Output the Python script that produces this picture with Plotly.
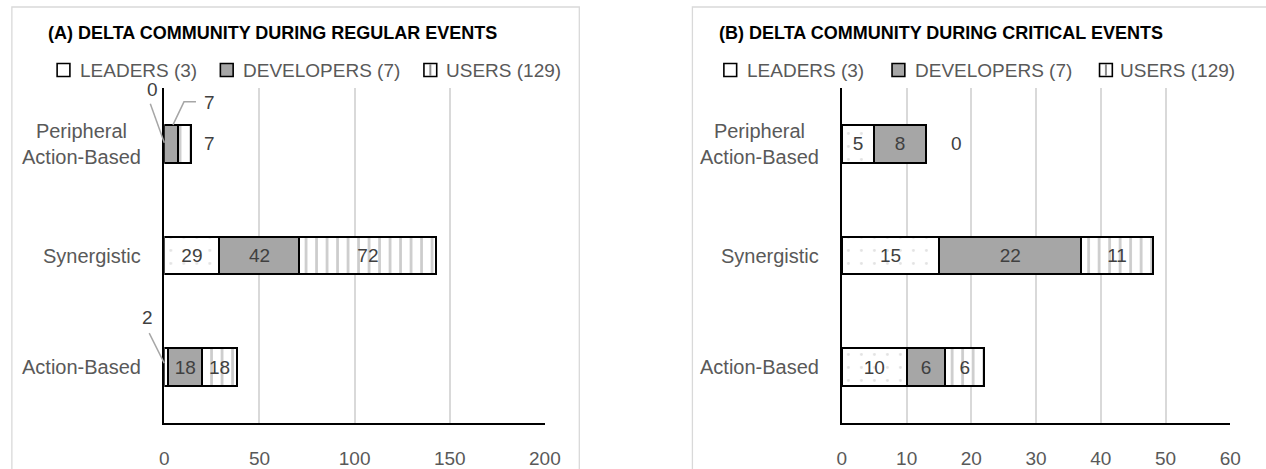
import plotly.graph_objects as go

# ---------------------------------------------------------------- data
# categories listed bottom to top
categories = ["Action-Based", "Synergistic", "Peripheral<br>Action-Based"]
series_names = ["LEADERS (3)", "DEVELOPERS (7)", "USERS (129)"]

regular_leaders = [2, 29, 0]
regular_developers = [18, 42, 7]
regular_users = [18, 72, 7]

critical_leaders = [10, 15, 5]
critical_developers = [6, 22, 8]
critical_users = [6, 11, 0]

regular_ticks = [0, 50, 100, 150, 200]
critical_ticks = [0, 10, 20, 30, 40, 50, 60]

title_regular = "(A) DELTA COMMUNITY DURING REGULAR EVENTS"
title_critical = "(B) DELTA COMMUNITY DURING CRITICAL EVENTS"

# ---------------------------------------------------------------- styles
W, H = 1266, 469
FONT = "Liberation Sans, Arial, sans-serif"
GREY_TEXT = "#595959"
LABEL_TEXT = "#404040"
GRID = "#D9D9D9"
BAR_WIDTH = 0.34

series_styles = [
    dict(color="white", pattern=dict(shape=".", fgcolor="#C8C8C8", bgcolor="white",
                                     size=13, solidity=0.04)),
    dict(color="#A6A6A6"),
    dict(color="white", pattern=dict(shape="|", fgcolor="#9A9A9A", bgcolor="white",
                                     size=10.5, solidity=0.26)),
]


def px_x(p):
    return p / W


def px_y(p):
    return 1 - p / H


panels = [
    dict(values=[regular_leaders, regular_developers, regular_users], ticks=regular_ticks,
         title=title_regular, xa="x", ya="y", plot=(162, 549), frame=(7, 584),
         title_cx=272, legend_sq=[53, 219, 426], legend_tx=[74, 240, 446]),
    dict(values=[critical_leaders, critical_developers, critical_users], ticks=critical_ticks,
         title=title_critical, xa="x2", ya="y2", plot=(851, 1246), frame=(699, 1300),
         title_cx=952, legend_sq=[731, 902, 1113], legend_tx=[752, 923, 1132]),
]

# callout labels drawn next to a segment: (panel, series, category, anchor, label offset px,
# leader path offsets px)
callouts = [
    (0, 0, 2, "start", (-12, 54), [(-14, 40), (0, 1)]),
    (0, 1, 2, "mid", (39, 41), [(2, 19), (13, 42), (25, 42)]),
    (0, 2, 2, "end", (19, 0), None),
    (0, 0, 0, "mid", (-19, 50), [(-17, 34), (-2, 4)]),
    (1, 2, 2, "end", (30, 0), None),
]
callout_keys = {(c[0], c[1], c[2]) for c in callouts}

PLOT_TOP, PLOT_BOTTOM = 88, 423
Y_RANGE = [-0.5, len(categories) - 0.5]

fig = go.Figure()
shapes, annotations = [], []

for pi, panel in enumerate(panels):
    ypos = list(range(len(categories)))
    for si, name in enumerate(series_names):
        vals = panel["values"][si]
        texts = ["" if (pi, si, ci) in callout_keys else str(v) for ci, v in enumerate(vals)]
        fig.add_trace(go.Bar(
            y=ypos, x=vals, orientation="h", name=name, width=BAR_WIDTH,
            marker=dict(line=dict(color="black", width=2), **series_styles[si]),
            text=texts, textposition="inside", insidetextanchor="middle",
            constraintext="none",
            textfont=dict(family=FONT, size=19, color=LABEL_TEXT),
            xaxis=panel["xa"], yaxis=panel["ya"], showlegend=False,
            hoverinfo="skip",
        ))

    # chart frame
    fx0, fx1 = panel["frame"]
    shapes.append(dict(type="rect", xref="paper", yref="paper", x0=px_x(fx0), x1=px_x(fx1),
                       y0=-0.2, y1=px_y(7), line=dict(color=GRID, width=1.3),
                       fillcolor="rgba(0,0,0,0)", layer="below"))

    # title
    annotations.append(dict(text="<b>" + panel["title"] + "</b>", xref="paper", yref="paper",
                            x=px_x(panel["title_cx"]), y=px_y(33), showarrow=False,
                            xanchor="center", yanchor="middle",
                            font=dict(family=FONT, size=18, color="black")))

    # legend
    for si, name in enumerate(series_names):
        sx = panel["legend_sq"][si]
        fill = "#A6A6A6" if si == 1 else "white"
        shapes.append(dict(type="rect", xref="paper", yref="paper",
                           x0=px_x(sx), x1=px_x(sx + 13), y0=px_y(76.5), y1=px_y(63.5),
                           line=dict(color="black", width=1.6), fillcolor=fill))
        if si == 2:
            shapes.append(dict(type="line", xref="paper", yref="paper",
                               x0=px_x(sx + 6.5), x1=px_x(sx + 6.5), y0=px_y(76), y1=px_y(64),
                               line=dict(color="#8C8C8C", width=2)))
        annotations.append(dict(text=name, xref="paper", yref="paper",
                                x=px_x(panel["legend_tx"][si]), y=px_y(70), showarrow=False,
                                xanchor="left", yanchor="middle",
                                font=dict(family=FONT, size=19, color=GREY_TEXT)))

    # category labels
    for ci, cat in enumerate(categories):
        annotations.append(dict(text=cat, xref=panel["xa"] + " domain", yref=panel["ya"],
                                x=0, y=ci, xanchor="right", yanchor="middle", xshift=-21,
                                showarrow=False, align="center",
                                font=dict(family=FONT, size=20, color=GREY_TEXT)))

# callout labels and leader lines
for pi, si, ci, anchor, (dx, dy), path in callouts:
    panel = panels[pi]
    vals = panel["values"]
    start = sum(vals[k][ci] for k in range(si))
    value = vals[si][ci]
    ax = {"start": start, "mid": start + value / 2, "end": start + value}[anchor]
    annotations.append(dict(text=str(value), xref=panel["xa"], yref=panel["ya"], x=ax, y=ci,
                            xshift=dx, yshift=dy, showarrow=False, xanchor="center",
                            yanchor="middle",
                            font=dict(family=FONT, size=19, color=LABEL_TEXT)))
    if path:
        # domain references keep the leader from being clipped at the plot edge
        x_lo, x_hi = panel["ticks"][0], panel["ticks"][-1]
        fx = (ax - x_lo) / (x_hi - x_lo)
        fy = (ci - Y_RANGE[0]) / (Y_RANGE[1] - Y_RANGE[0])
        d = "M" + " L".join(f"{px},{py}" for px, py in path)
        shapes.append(dict(type="path", xref=panel["xa"] + " domain",
                           yref=panel["ya"] + " domain",
                           xsizemode="pixel", ysizemode="pixel", xanchor=fx, yanchor=fy,
                           path=d, line=dict(color="#A6A6A6", width=1.5)))

layout = dict(
    width=W, height=H, margin=dict(l=0, r=0, t=0, b=0), autosize=False,
    paper_bgcolor="white", plot_bgcolor="white", barmode="stack",
    shapes=shapes, annotations=annotations, showlegend=False,
)
for pi, panel in enumerate(panels):
    sfx = "" if pi == 0 else str(pi + 1)
    x0, x1 = panel["plot"]
    layout["xaxis" + sfx] = dict(
        domain=[px_x(x0), px_x(x1)], range=[panel["ticks"][0], panel["ticks"][-1]],
        tickvals=panel["ticks"], showgrid=True, gridcolor=GRID, gridwidth=1.5,
        showline=True, linecolor="black", linewidth=2, zeroline=False,
        ticks="outside", ticklen=17, tickcolor="rgba(0,0,0,0)",
        tickfont=dict(family=FONT, size=19, color=GREY_TEXT),
        anchor="y" + sfx, fixedrange=True,
    )
    layout["yaxis" + sfx] = dict(
        domain=[px_y(PLOT_BOTTOM), px_y(PLOT_TOP)], range=Y_RANGE,
        showticklabels=False, showgrid=False, zeroline=False,
        showline=True, linecolor="black", linewidth=2,
        anchor="x" + sfx, fixedrange=True,
    )

fig.update_layout(**layout)
fig.write_html(
    "out.html",
    config={"responsive": False, "displayModeBar": False},
    post_script="document.body.style.margin='0';document.body.style.overflow='hidden';",
)
